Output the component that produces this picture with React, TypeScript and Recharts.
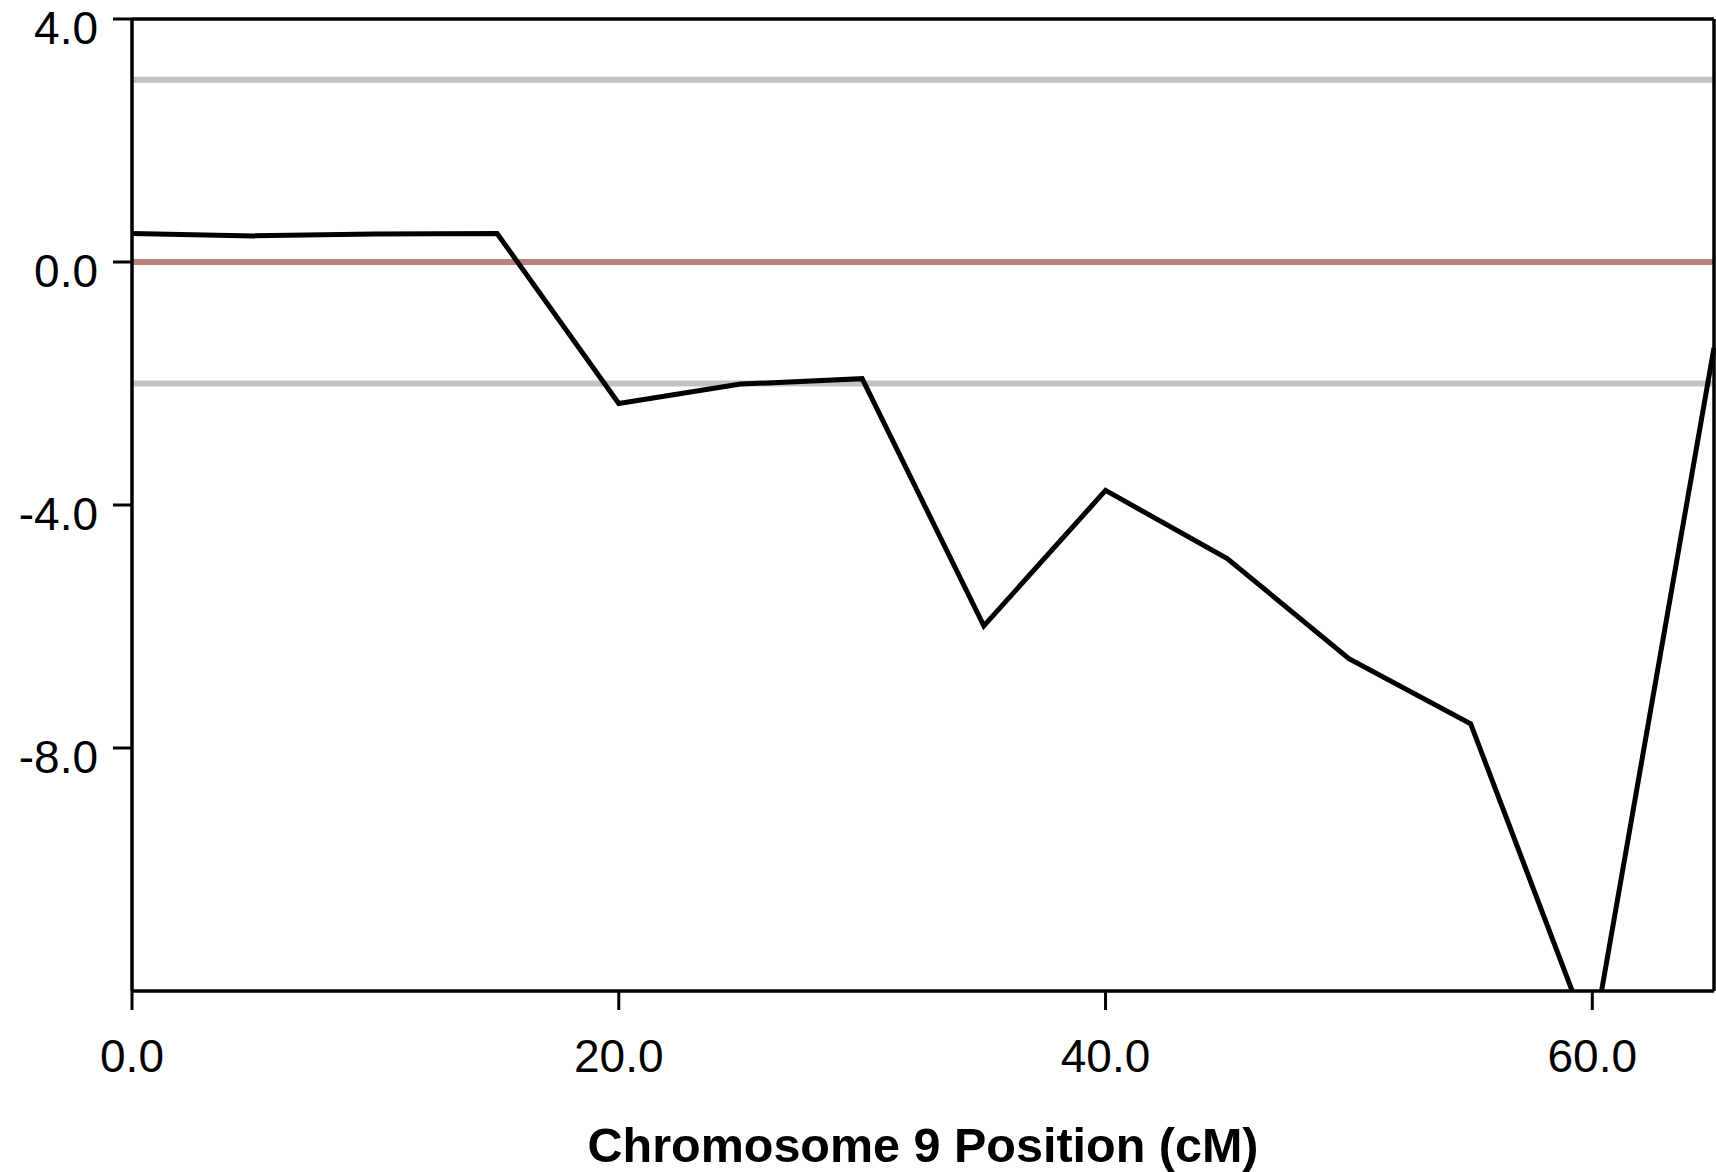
import React from "react";
import { LineChart, Line, XAxis, YAxis, ReferenceLine, Label } from "recharts";

const positions = [0, 5, 10, 15, 20, 25, 30, 35, 40, 45, 50, 55, 60, 65];
const lodValues = [0.47, 0.43, 0.46, 0.47, -2.33, -2.01, -1.92, -5.99, -3.76, -4.88, -6.53, -7.6, -12.87, -1.41];
const xTicks = [0, 20, 40, 60];
const yTicks = [4, 0, -4, -8];
const upperThreshold = 3;
const lowerThreshold = -2;
const baseline = 0;
const xLabel = "Chromosome 9 Position (cM)";

const data = positions.map((p, i) => ({ pos: p, lod: lodValues[i] }));

const FONT = "'Liberation Sans', Arial, Helvetica, sans-serif";

const YTick = (props: any) => {
  const { x, y, payload } = props;
  return (
    <text x={x} y={y + 25} textAnchor="end" fontSize={46} fontFamily={FONT} fill="#000">
      {Number(payload.value).toFixed(1)}
    </text>
  );
};

const XTick = (props: any) => {
  const { x, y, payload } = props;
  return (
    <text x={x} y={y + 62} textAnchor="middle" fontSize={46} fontFamily={FONT} fill="#000">
      {Number(payload.value).toFixed(1)}
    </text>
  );
};

export default function App() {
  return (
    <div style={{ position: "absolute", left: 0, top: 0, width: 1716, height: 1172, background: "#fff" }}>
      <LineChart width={1716} height={1172} data={data} margin={{ top: 19, right: 2, bottom: 0, left: 0 }}>
        <XAxis
          dataKey="pos"
          type="number"
          domain={[0, 65]}
          ticks={xTicks}
          height={181}
          tickSize={19}
          tickMargin={0}
          tick={<XTick />}
          axisLine={{ stroke: "#000", strokeWidth: 3.5 }}
          tickLine={{ stroke: "#000", strokeWidth: 3 }}
          interval={0}
        >
          <Label
            value={xLabel}
            position="insideBottom"
            offset={10}
            style={{ fontSize: 48.5, fontWeight: "bold", fontFamily: FONT, fill: "#000" }}
          />
        </XAxis>
        <YAxis
          type="number"
          domain={[-12, 4]}
          allowDataOverflow
          ticks={yTicks}
          width={132}
          tickSize={19}
          tickMargin={15}
          tick={<YTick />}
          axisLine={{ stroke: "#000", strokeWidth: 3.5 }}
          tickLine={{ stroke: "#000", strokeWidth: 3 }}
          interval={0}
        />
        <ReferenceLine y={upperThreshold} stroke="#c2c2c2" strokeWidth={6} />
        <ReferenceLine y={lowerThreshold} stroke="#c2c2c2" strokeWidth={6} />
        <ReferenceLine y={baseline} stroke="#b88280" strokeWidth={6} />
        <ReferenceLine y={4} stroke="#000" strokeWidth={3.5} />
        <ReferenceLine x={65} stroke="#000" strokeWidth={3.5} />
        <Line
          type="linear"
          dataKey="lod"
          stroke="#000"
          strokeWidth={5}
          dot={false}
          activeDot={false}
          isAnimationActive={false}
        />
      </LineChart>
    </div>
  );
}
